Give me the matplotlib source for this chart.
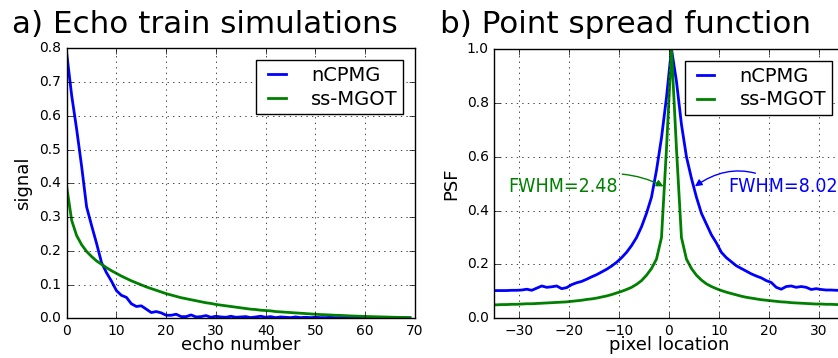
import matplotlib
matplotlib.use('Agg')
import matplotlib.pyplot as plt
import numpy as np

plt.style.use('classic')

# echo train simulations
echo_num = np.arange(0, 70)
sig_ncpmg = [0.785, 0.66, 0.56, 0.45, 0.33, 0.275, 0.222, 0.165, 0.135, 0.11,
             0.082, 0.068, 0.062, 0.043, 0.035, 0.037, 0.027, 0.017, 0.02, 0.016,
             0.009, 0.009, 0.012, 0.005, 0.005, 0.01, 0.004, 0.005, 0.008, 0.003,
             0.006, 0.004, 0.003, 0.006, 0.003, 0.004, 0.005, 0.002, 0.004, 0.006,
             0.003, 0.005, 0.002, 0.004, 0.003, 0.002, 0.004, 0.002, 0.003, 0.002,
             0.003, 0.002, 0.002, 0.003, 0.002, 0.002, 0.002, 0.003, 0.002, 0.002,
             0.002, 0.001, 0.002, 0.002, 0.001, 0.002, 0.001, 0.001, 0.001, 0.001]
sig_mgot = [0.39, 0.29, 0.245, 0.218, 0.198, 0.183, 0.17, 0.16, 0.15, 0.141,
            0.133, 0.125, 0.118, 0.111, 0.105, 0.099, 0.093, 0.088, 0.083, 0.078,
            0.073, 0.069, 0.065, 0.061, 0.058, 0.055, 0.052, 0.049, 0.046, 0.044,
            0.041, 0.039, 0.037, 0.035, 0.033, 0.031, 0.029, 0.027, 0.026, 0.024,
            0.023, 0.022, 0.02, 0.019, 0.018, 0.017, 0.016, 0.015, 0.014, 0.013,
            0.012, 0.011, 0.0105, 0.0098, 0.009, 0.0085, 0.0078, 0.007, 0.0065, 0.006,
            0.0055, 0.005, 0.0046, 0.0042, 0.0038, 0.0034, 0.003, 0.0027, 0.0024, 0.0021]

# point spread functions, pixel locations -35.5 .. 35.5
pix = np.arange(-35.5, 36.5)
psf_ncpmg = [0.103, 0.103, 0.103, 0.103, 0.104, 0.104, 0.105, 0.108, 0.104, 0.112,
             0.12, 0.115, 0.117, 0.12, 0.11, 0.114, 0.125, 0.132, 0.137, 0.145,
             0.154, 0.162, 0.172, 0.182, 0.194, 0.208, 0.225, 0.245, 0.27, 0.30,
             0.34, 0.39, 0.45, 0.55, 0.67, 0.82,
             1.0,
             0.88, 0.72, 0.60, 0.52, 0.45, 0.39, 0.35, 0.31, 0.28, 0.245,
             0.225, 0.21, 0.195, 0.185, 0.175, 0.165, 0.157, 0.15, 0.14, 0.133,
             0.115, 0.108, 0.118, 0.12, 0.115, 0.118, 0.115, 0.107, 0.11, 0.107,
             0.105, 0.105, 0.104, 0.104, 0.104]
psf_mgot = [0.05, 0.05, 0.051, 0.051, 0.052, 0.052, 0.053, 0.054, 0.054, 0.055,
            0.056, 0.057, 0.058, 0.059, 0.06, 0.061, 0.063, 0.065, 0.067, 0.07,
            0.072, 0.075, 0.079, 0.083, 0.088, 0.094, 0.1, 0.107, 0.115, 0.126,
            0.14, 0.16, 0.185, 0.22, 0.3, 0.63,
            1.0,
            0.63, 0.3, 0.22, 0.185, 0.16, 0.142, 0.128, 0.118, 0.11, 0.103,
            0.097, 0.092, 0.087, 0.082, 0.078, 0.075, 0.072, 0.069, 0.067, 0.065,
            0.063, 0.061, 0.06, 0.058, 0.057, 0.056, 0.055, 0.054, 0.053, 0.053,
            0.052, 0.052, 0.051, 0.051, 0.05]

fig = plt.figure(figsize=(8.38, 3.58), dpi=100, facecolor='white')
ax1 = fig.add_axes([0.0796, 0.1109, 0.4156, 0.7542])
ax2 = fig.add_axes([0.5899, 0.1109, 0.4168, 0.7522])

leg_kw = dict(loc='upper right', fontsize=14, handlelength=1.5,
              handletextpad=1.0, labelspacing=0.25, borderpad=0.3,
              borderaxespad=0.6)

ax1.plot(echo_num, sig_ncpmg, 'b-', linewidth=2, label='nCPMG')
ax1.plot(echo_num, sig_mgot, 'g-', linewidth=2, label='ss-MGOT')
ax1.set_xlim(0, 70)
ax1.set_ylim(0, 0.8)
ax1.set_xticks(np.arange(0, 71, 10))
ax1.set_yticks(np.arange(0, 0.81, 0.1))
ax1.set_xlabel('echo number', fontsize=13, labelpad=-1)
ax1.set_ylabel('signal', fontsize=13, labelpad=5)
ax1.grid(True)
ax1.legend(**leg_kw)

ax2.plot(pix, psf_ncpmg, 'b-', linewidth=2, label='nCPMG')
ax2.plot(pix, psf_mgot, 'g-', linewidth=2, label='ss-MGOT')
ax2.set_xlim(-35, 35)
ax2.set_ylim(0, 1.0)
ax2.set_xticks(np.arange(-30, 31, 10))
ax2.set_yticks(np.arange(0, 1.01, 0.2))
ax2.set_xlabel('pixel location', fontsize=13, labelpad=-1)
ax2.set_ylabel('PSF', fontsize=13, labelpad=5)
ax2.grid(True)
ax2.legend(**leg_kw)

ann_kw = dict(fontsize=14, fontstretch='condensed', va='center')
ax2.annotate('FWHM=2.48', xy=(-1.1, 0.49), xytext=(-10.3, 0.49), color='g',
             ha='right',
             arrowprops=dict(arrowstyle='-|>', color='g', lw=1, mutation_scale=10,
                             shrinkA=1, shrinkB=0,
                             connectionstyle='arc3,rad=-0.25'), **ann_kw)
ax2.annotate('FWHM=8.02', xy=(5.2, 0.49), xytext=(11.8, 0.49), color='b',
             ha='left',
             arrowprops=dict(arrowstyle='-|>', color='b', lw=1, mutation_scale=10,
                             shrinkA=1, shrinkB=0,
                             connectionstyle='arc3,rad=0.35'), **ann_kw)

for ax in (ax1, ax2):
    ax.tick_params(labelsize=10)

fig.text(0.0145, 0.907, 'a) Echo train simulations', fontsize=22.3, ha='left', va='baseline')
fig.text(0.5255, 0.907, 'b) Point spread function', fontsize=22.3, ha='left', va='baseline')

fig.savefig('out.png', dpi=100, facecolor='white')
